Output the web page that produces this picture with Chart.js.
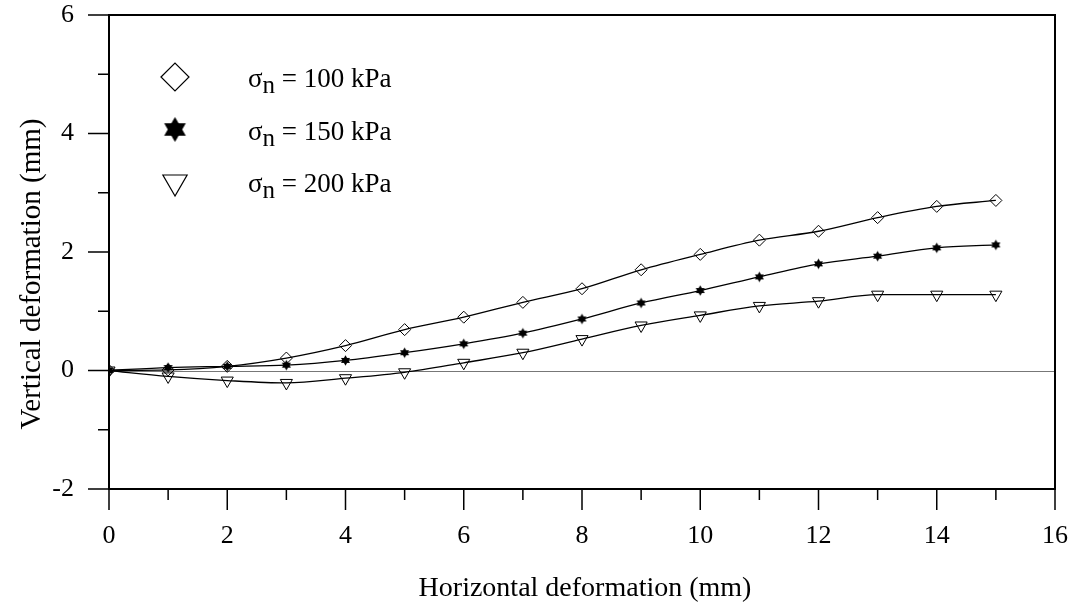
<!DOCTYPE html>
<html>
<head>
<meta charset="utf-8">
<script src="https://cdn.jsdelivr.net/npm/chart.js@4/dist/chart.umd.min.js"></script>
<style>
  html, body { margin: 0; padding: 0; background: #fff; }
  #wrap { width: 1076px; height: 607px; }
</style>
</head>
<body>
<div id="wrap"><canvas id="deformChart" width="1076" height="607"></canvas></div>
<script>
// horizontal deformation (mm)
const horizDef = [0, 1, 2, 3, 4, 5, 6, 7, 8, 9, 10, 11, 12, 13, 14, 15];
// vertical deformation (mm) at each normal stress
const vert100 = [0, 0.01, 0.07, 0.21, 0.42, 0.69, 0.90, 1.15, 1.38, 1.70, 1.96, 2.20, 2.35, 2.58, 2.77, 2.87];
const vert150 = [0, 0.05, 0.07, 0.09, 0.17, 0.30, 0.45, 0.63, 0.87, 1.14, 1.35, 1.58, 1.80, 1.93, 2.07, 2.12];
const vert200 = [0, -0.10, -0.17, -0.21, -0.13, -0.03, 0.13, 0.30, 0.53, 0.76, 0.93, 1.09, 1.17, 1.28, 1.28, 1.28];
const stressLabels = ['100', '150', '200'];

const xTitle = 'Horizontal deformation (mm)';
const yTitle = 'Vertical deformation (mm)';
const SERIF = '"Liberation Serif", "Times New Roman", serif';

// filled six-pointed star used as the 150 kPa marker
function makeHexagram(R) {
    const size = Math.ceil(2 * R) + 2;
    const c = document.createElement('canvas');
    c.width = size; c.height = size;
    const g = c.getContext('2d');
    const cx = size / 2, cy = size / 2;
    g.fillStyle = '#000';
    [-Math.PI / 2, Math.PI / 2].forEach(a0 => {
        g.beginPath();
        for (let k = 0; k < 3; k++) {
            const a = a0 + k * 2 * Math.PI / 3;
            const px = cx + R * Math.cos(a), py = cy + R * Math.sin(a);
            if (k === 0) g.moveTo(px, py); else g.lineTo(px, py);
        }
        g.closePath();
        g.fill();
    });
    return c;
}

const starSmall = makeHexagram(5.2);
const starBig = makeHexagram(12.5);

function toPoints(ys) {
    return horizDef.map((x, i) => ({ x: x, y: ys[i] }));
}

const seriesStyle = [
    { data: vert100, pointStyle: 'rectRot', radius: 6, rotation: 0, legendRadius: 14 },
    { data: vert150, pointStyle: starSmall, radius: 5, rotation: 0, legendStyle: starBig },
    { data: vert200, pointStyle: 'triangle', radius: 7, rotation: 180, legendRadius: 14 }
];

// frame, tick marks, zero line, titles and the in-plot legend
const framePlugin = {
    id: 'framePlugin',
    beforeDatasetsDraw(chart) {
        const { ctx, chartArea, scales } = chart;
        const y0 = Math.round(scales.y.getPixelForValue(0)) + 0.5;
        ctx.save();
        ctx.strokeStyle = '#777';
        ctx.lineWidth = 1;
        ctx.beginPath();
        ctx.moveTo(chartArea.left, y0);
        ctx.lineTo(chartArea.right, y0);
        ctx.stroke();
        ctx.restore();
    },
    afterDraw(chart) {
        const { ctx, chartArea, scales } = chart;
        const { left, right, top, bottom } = chartArea;
        ctx.save();
        ctx.strokeStyle = '#000';

        // top and right sides of the box
        ctx.lineWidth = 2;
        ctx.beginPath();
        ctx.moveTo(left, top);
        ctx.lineTo(right, top);
        ctx.lineTo(right, bottom);
        ctx.stroke();

        // tick marks, longer on labelled values
        ctx.lineWidth = 1.5;
        ctx.beginPath();
        for (let v = 0; v <= 16; v++) {
            const px = scales.x.getPixelForValue(v);
            ctx.moveTo(px, bottom);
            ctx.lineTo(px, bottom + (v % 2 === 0 ? 21 : 11));
        }
        for (let v = -2; v <= 6; v++) {
            const py = scales.y.getPixelForValue(v);
            ctx.moveTo(left, py);
            ctx.lineTo(left - (Math.abs(v) % 2 === 0 ? 21 : 11), py);
        }
        ctx.stroke();

        // axis titles
        ctx.fillStyle = '#000';
        ctx.textAlign = 'center';
        ctx.textBaseline = 'alphabetic';
        ctx.font = '28px ' + SERIF;
        ctx.fillText(xTitle, (left + right) / 2 + 3, 596);
        ctx.save();
        ctx.font = '29px ' + SERIF;
        ctx.translate(40, 274);
        ctx.rotate(-Math.PI / 2);
        ctx.fillText(yTitle, 0, 0);
        ctx.restore();

        // legend
        const rowY = [77, 129.5, 182];
        seriesStyle.forEach((s, i) => {
            ctx.fillStyle = 'rgba(0,0,0,0)';
            ctx.strokeStyle = '#000';
            ctx.lineWidth = 1.2;
            Chart.helpers.drawPoint(ctx, {
                pointStyle: s.legendStyle || s.pointStyle,
                radius: s.legendRadius || 12,
                rotation: s.rotation,
                borderWidth: 1.2
            }, 175, rowY[i]);

            const base = rowY[i] + 10;
            let tx = 248;
            ctx.fillStyle = '#000';
            ctx.textAlign = 'left';
            ctx.font = '27px ' + SERIF;
            ctx.fillText('\u03c3', tx, base);
            tx += ctx.measureText('\u03c3').width;
            ctx.font = '25px ' + SERIF;
            ctx.fillText('n', tx, base + 6);
            tx += ctx.measureText('n').width;
            ctx.font = '27px ' + SERIF;
            ctx.fillText(' = ' + stressLabels[i] + ' kPa', tx, base);
        });
        ctx.restore();
    }
};

new Chart(document.getElementById('deformChart').getContext('2d'), {
    type: 'line',
    data: {
        datasets: seriesStyle.map((s, i) => ({
            label: '\u03c3n = ' + stressLabels[i] + ' kPa',
            data: toPoints(s.data),
            borderColor: '#000',
            borderWidth: 1.3,
            backgroundColor: 'rgba(0,0,0,0)',
            pointStyle: s.pointStyle,
            pointRadius: s.radius,
            pointRotation: s.rotation,
            pointBorderColor: '#000',
            pointBorderWidth: 1,
            pointBackgroundColor: 'rgba(0,0,0,0)',
            cubicInterpolationMode: 'monotone',
            fill: false
        }))
    },
    options: {
        responsive: false,
        animation: false,
        layout: { padding: { top: 15, right: 21, left: 0, bottom: 0 } },
        scales: {
            x: {
                type: 'linear', min: 0, max: 16,
                ticks: { stepSize: 2, padding: 32, color: '#000', font: { family: SERIF, size: 26 } },
                grid: { display: false, drawTicks: false },
                border: { display: true, color: '#000', width: 2 },
                afterFit(scale) {
                    scale.height = 118;
                    scale.paddingLeft = 0;
                    scale.paddingRight = 0;
                }
            },
            y: {
                type: 'linear', min: -2, max: 6,
                ticks: { stepSize: 2, padding: 35, color: '#000', font: { family: SERIF, size: 26 } },
                grid: { display: false, drawTicks: false },
                border: { display: true, color: '#000', width: 2 },
                afterFit(scale) {
                    scale.width = 109;
                    scale.paddingTop = 0;
                    scale.paddingBottom = 0;
                }
            }
        },
        plugins: {
            legend: { display: false },
            tooltip: { enabled: false }
        }
    },
    plugins: [framePlugin]
});
</script>
</body>
</html>
